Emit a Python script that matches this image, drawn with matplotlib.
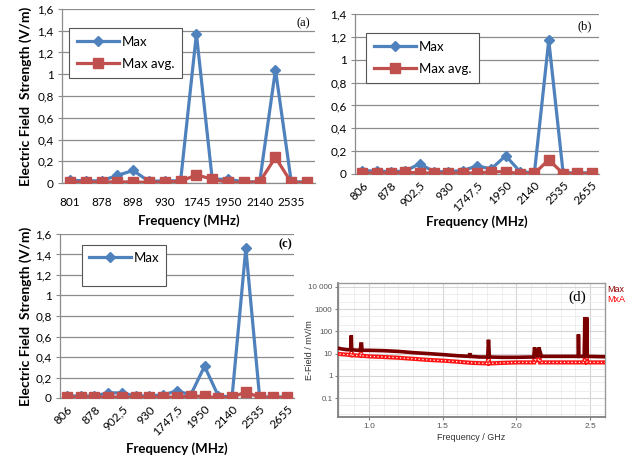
import matplotlib
matplotlib.use("Agg")
import matplotlib.pyplot as plt
from matplotlib.ticker import FixedLocator, FuncFormatter, MultipleLocator, NullFormatter
from matplotlib.lines import Line2D
import numpy as np

# ---------------- data ----------------
labels_a = ['801', '878', '898', '930', '1745', '1950', '2140', '2535']
max_a = [0.025, 0.02, 0.02, 0.07, 0.115, 0.015, 0.02, 0.02, 1.37, 0.035, 0.035, 0.01, 0.01, 1.04, 0.01, 0.01]
avg_a = [0.01, 0.01, 0.01, 0.01, 0.01, 0.005, 0.01, 0.015, 0.075, 0.035, 0.005, 0.005, 0.01, 0.235, 0.005, 0.005]

labels_bc = ['806', '878', '902,5', '930', '1747,5', '1950', '2140', '2535', '2655']
max_b = [0.03, 0.025, 0.02, 0.025, 0.09, 0.02, 0.02, 0.03, 0.07, 0.045, 0.16, 0.02, 0.01, 1.17, 0.01, 0.01, 0.01]
avg_b = [0.01, 0.01, 0.01, 0.015, 0.01, 0.008, 0.008, 0.01, 0.008, 0.02, 0.02, 0.003, 0.005, 0.125, 0.003, 0.005, 0.005]

max_c = [0.02, 0.02, 0.02, 0.05, 0.05, 0.02, 0.02, 0.03, 0.07, 0.03, 0.31, 0.02, 0.01, 1.46, 0.01, 0.01, 0.01]
avg_c = [0.01, 0.01, 0.01, 0.01, 0.01, 0.008, 0.008, 0.01, 0.008, 0.02, 0.015, 0.003, 0.005, 0.06, 0.005, 0.005, 0.005]

# panel (d) spectrum, GHz / mV/m
f_max = [0.80, 0.82, 0.85, 0.877, 0.880, 0.883, 0.90, 0.93, 0.942, 0.945, 0.950, 0.953, 1.00, 1.10, 1.20,
         1.30, 1.40, 1.50, 1.60, 1.680, 1.683, 1.686, 1.75, 1.805, 1.810, 1.813, 1.816, 1.82, 1.90, 2.00,
         2.10, 2.118, 2.122, 2.13, 2.14, 2.148, 2.152, 2.16, 2.17, 2.30, 2.40, 2.418, 2.420, 2.423,
         2.460, 2.463, 2.466, 2.470, 2.474, 2.477, 2.48, 2.55, 2.60]
e_max = [17, 16, 15, 15, 66, 15, 14.5, 14, 14, 27, 27, 14, 14, 13.5, 12.5,
         11, 10, 9, 8, 7.5, 10.5, 7.5, 7, 7, 42, 20, 7, 7, 6.8, 6.8,
         7, 7, 19, 12, 8, 8, 19, 12, 7.5, 7.5, 7.5, 7.5, 73, 7.5,
         7.5, 420, 60, 420, 60, 420, 7.5, 7.3, 7.2]
f_mxa = [0.80, 0.85, 0.877, 0.880, 0.883, 0.94, 0.945, 0.95, 1.00, 1.10, 1.20, 1.30, 1.40, 1.50, 1.60,
         1.70, 1.805, 1.810, 1.815, 1.90, 2.00, 2.10, 2.12, 2.125, 2.13, 2.148, 2.152, 2.16, 2.30,
         2.40, 2.462, 2.465, 2.470, 2.475, 2.478, 2.55, 2.60]
e_mxa = [9.5, 9, 8.5, 12, 8.5, 8, 11, 8, 7.5, 7, 6.5, 5.8, 5.2, 4.8, 4.3,
         3.8, 3.6, 9, 3.6, 3.8, 4, 4, 4, 12, 5, 5, 11, 4, 4,
         4, 4, 60, 35, 60, 4, 4, 4]

# ---------------- style ----------------
W, H = 638, 459
fig = plt.figure(figsize=(W / 100, H / 100), dpi=100)
FONT = ['Lato', 'DejaVu Sans']
plt.rcParams['font.family'] = FONT

BLUE = '#4F81BD'
RED = '#C0504D'
GRID = '#8C8C8C'


def box(l, r, t, b):
    return [l / W, 1 - b / H, (r - l) / W, (b - t) / H]


def comma(v, pos=None):
    s = f'{v:.1f}'.rstrip('0').rstrip('.')
    return s.replace('.', ',')


def excel_axes(rect, ymax, labels, n, rotate, ylabel, xlabel_px, ylabel_px):
    ax = fig.add_axes(rect)
    ax.set_xlim(-0.5, n - 0.5)
    ax.set_ylim(0, ymax)
    ax.yaxis.set_major_locator(MultipleLocator(0.2))
    ax.yaxis.set_major_formatter(FuncFormatter(comma))
    ax.grid(axis='y', color=GRID, lw=0.9)
    ax.set_axisbelow(True)
    for s in ['top', 'right']:
        ax.spines[s].set_visible(False)
    for s in ['left', 'bottom']:
        ax.spines[s].set_color(GRID)
        ax.spines[s].set_linewidth(0.9)
    ax.tick_params(axis='y', length=3, color=GRID, labelsize=8.5, pad=3)
    ax.tick_params(axis='x', length=0, labelsize=8.5, pad=10)
    ax.set_xticks(np.arange(0, n, 2))
    if rotate:
        ax.set_xticklabels(labels, rotation=45, ha='right', rotation_mode='anchor')
        ax.tick_params(axis='x', pad=4)
    else:
        ax.set_xticklabels(labels)
    ax.set_xlabel('Frequency (MHz)', fontsize=9.5, fontweight='bold')
    ax.xaxis.set_label_coords(0.5, -xlabel_px / (rect[3] * H))
    if ylabel:
        ax.set_ylabel('Electric Field  Strength (V/m)', fontsize=10, fontweight='bold')
        ax.yaxis.set_label_coords(-ylabel_px / (rect[2] * W), 0.5)
    return ax


def series(ax, y, color, marker, ms):
    x = np.arange(len(y))
    ln, = ax.plot(x, y, color=color, lw=2.3, marker=marker, ms=ms, mfc=color, mec=color, zorder=3)
    return ln


# ---- (a)
ax_a = excel_axes(box(62, 315, 9, 183), 1.6, labels_a, len(max_a), False, True, 31, 30)
la1 = series(ax_a, max_a, BLUE, 'D', 5.5)
la2 = series(ax_a, avg_a, RED, 's', 7.5)
ax_a.legend([la1, la2], ['Max', 'Max avg.'], loc='upper left', bbox_to_anchor=(0.028, 0.89),
            fancybox=False, edgecolor='#555555', framealpha=1, fontsize=9.5, handlelength=3.2,
            labelspacing=0.75, borderpad=0.6, handletextpad=0.2, borderaxespad=0)
ax_a.legend_.get_frame().set_linewidth(0.8)

# ---- (b)
ax_b = excel_axes(box(355, 599, 14, 174), 1.4, labels_bc, len(max_b), True, False, 41, 0)
lb1 = series(ax_b, max_b, BLUE, 'D', 5.5)
lb2 = series(ax_b, avg_b, RED, 's', 7.5)
ax_b.legend([lb1, lb2], ['Max', 'Max avg.'], loc='upper left', bbox_to_anchor=(0.045, 0.88),
            fancybox=False, edgecolor='#555555', framealpha=1, fontsize=9.5, handlelength=3.2,
            labelspacing=0.75, borderpad=0.6, handletextpad=0.2, borderaxespad=0)
ax_b.legend_.get_frame().set_linewidth(0.8)

# ---- (c)
ax_c = excel_axes(box(60, 294, 234, 398), 1.6, labels_bc, len(max_c), True, True, 44, 28)
lc1 = series(ax_c, max_c, BLUE, 'D', 5.5)
lc2 = series(ax_c, avg_c, RED, 's', 7.5)
blank = Line2D([], [], alpha=0)
ax_c.legend([lc1, blank], ['Max', ' '], loc='upper left', bbox_to_anchor=(0.094, 0.933),
            fancybox=False, edgecolor='#555555', framealpha=1, fontsize=9.5, handlelength=3.2,
            labelspacing=0.3, borderpad=0.5, handletextpad=0.2, borderaxespad=0)
ax_c.legend_.get_frame().set_linewidth(0.8)

# panel tags
fig.text(303 / W, 1 - 23 / H, '(a)', family='Liberation Serif', fontsize=9, ha='center', va='center')
fig.text(585 / W, 1 - 26 / H, '(b)', family='Liberation Serif', fontsize=9, ha='center', va='center')
fig.text(285 / W, 1 - 244 / H, '(c)', family='Liberation Serif', fontsize=9, fontweight='bold',
         ha='center', va='center')

# ---- (d)
ax_d = fig.add_axes(box(338, 605, 283, 417))
ax_d.set_yscale('log')
ax_d.set_xlim(0.79, 2.6)
ax_d.set_ylim(0.014, 15000)
ax_d.plot(f_mxa, e_mxa, color='#FF1414', lw=3.0, solid_joinstyle='miter', zorder=3)
ax_d.plot(f_mxa, e_mxa, color='white', lw=0.9, dashes=(1.0, 2.0), zorder=3.5)
ax_d.plot(f_max, e_max, color='#7A0000', lw=2.6, solid_joinstyle='miter', zorder=4)
ax_d.yaxis.set_major_locator(FixedLocator([0.1, 1, 10, 100, 1000, 10000]))
ax_d.yaxis.set_major_formatter(FuncFormatter(
    lambda v, p: {0.1: '0.1', 1: '1', 10: '10', 100: '100', 1000: '1000', 10000: '10 000'}.get(round(v, 1), '')))
ax_d.yaxis.set_minor_locator(FixedLocator([m * 10.0 ** k for k in range(-2, 5) for m in (2, 5)]))
ax_d.yaxis.set_minor_formatter(NullFormatter())
ax_d.xaxis.set_major_locator(MultipleLocator(0.5))
ax_d.xaxis.set_minor_locator(MultipleLocator(0.1))
ax_d.xaxis.set_major_formatter(FuncFormatter(lambda v, p: f'{v:.1f}'))
ax_d.grid(which='major', color='#D5D5D5', lw=0.8)
ax_d.grid(which='minor', color='#EBEBEB', lw=0.6)
ax_d.set_axisbelow(True)
for s in ['left', 'bottom']:
    ax_d.spines[s].set_color('#7F7F7F')
    ax_d.spines[s].set_linewidth(1.3)
for s in ['top', 'right']:
    ax_d.spines[s].set_color('#9A9A9A')
    ax_d.spines[s].set_linewidth(1.0)
ax_d.tick_params(which='both', length=0)
ax_d.tick_params(axis='y', which='major', length=2.5, color='#7F7F7F', labelsize=5.8, labelcolor='#555555', pad=1.5)
ax_d.tick_params(axis='x', which='major', length=2.5, color='#7F7F7F', labelsize=6, labelcolor='#555555', pad=2)
ax_d.set_xlabel('Frequency / GHz', fontsize=6.5, color='#333333', family='Liberation Sans')
ax_d.xaxis.set_label_coords(0.5, -16 / 134)
ax_d.set_ylabel('E-Field / mV/m', fontsize=6.5, color='#333333', family='Liberation Sans')
ax_d.yaxis.set_label_coords(-24 / 267, 0.5)
for t in ax_d.get_xticklabels() + ax_d.get_yticklabels():
    t.set_family('Liberation Sans')

fig.text(577 / W, 1 - 297 / H, '(d)', family='Liberation Serif', fontsize=11, ha='center', va='center')
fig.text(607 / W, 1 - 289 / H, 'Max', family=['Liberation Sans Narrow', 'Liberation Sans'], fontsize=6.5,
         color='#8B0000', ha='left', va='center')
fig.text(607 / W, 1 - 299 / H, 'MxA', family=['Liberation Sans Narrow', 'Liberation Sans'], fontsize=6.5,
         color='#FF0000', ha='left', va='center')

fig.savefig('out.png', dpi=100)
